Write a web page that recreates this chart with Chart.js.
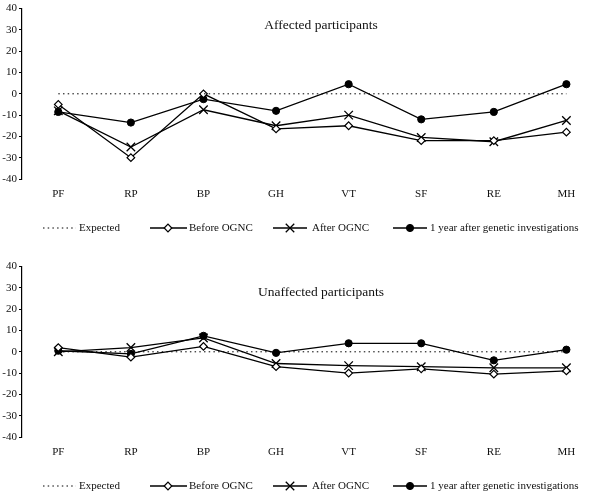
<!DOCTYPE html>
<html>
<head>
<meta charset="utf-8">
<script src="https://cdn.jsdelivr.net/npm/chart.js@4.4.1/dist/chart.umd.min.js"></script>
<style>
body { margin: 0; background: #fff; }
canvas { position: absolute; left: 0; }
</style>
</head>
<body>
<canvas id="topChart" width="610" height="233" style="top:0px"></canvas>
<canvas id="bottomChart" width="610" height="233" style="top:258px"></canvas>
<script>
// SF-36 dimensions
var categories = ['PF', 'RP', 'BP', 'GH', 'VT', 'SF', 'RE', 'MH'];
var expected = [0, 0, 0, 0, 0, 0, 0, 0];

// affected participants
var affectedBefore = [-5, -30, 0, -16.5, -15, -22, -22, -18];
var affectedAfter = [-8, -25, -7.5, -15, -10, -20.5, -22.5, -12.5];
var affectedYear = [-8.5, -13.5, -2.5, -8, 4.5, -12, -8.5, 4.5];

// unaffected participants
var unaffectedBefore = [2, -2.5, 2.5, -7, -10, -8, -10.5, -9];
var unaffectedAfter = [0, 2, 6.5, -5.5, -6.5, -7, -7.5, -7.5];
var unaffectedYear = [0.5, -1, 7.5, -0.5, 4, 4, -4, 1];

var seriesNames = ['Expected', 'Before OGNC', 'After OGNC', '1 year after genetic investigations'];
var yMin = -40, yMax = 40, yStep = 10;

var serif = '"Liberation Serif", "Times New Roman", serif';

// legend sample positions: line start, line end, marker x, text x
var legendPos = [
    [43, 76, null, 79],
    [150, 187, 168, 189],
    [273, 307, 290, 312],
    [393, 427, 410, 430]
];

var panelPlugin = {
    id: 'panel',
    afterDraw: function(chart, args, opts) {
        var ctx = chart.ctx;
        ctx.save();
        ctx.fillStyle = '#111';
        ctx.font = '13.5px ' + serif;
        ctx.textAlign = 'center';
        ctx.textBaseline = 'middle';
        ctx.fillText(opts.title, opts.titleX, opts.titleY);

        var ly = opts.legendY;
        chart.data.datasets.forEach(function(ds, i) {
            var p = legendPos[i];
            ctx.strokeStyle = '#000';
            ctx.lineWidth = ds.borderWidth;
            ctx.setLineDash(ds.borderDash || []);
            ctx.beginPath();
            ctx.moveTo(p[0], ly);
            ctx.lineTo(p[1], ly);
            ctx.stroke();
            ctx.setLineDash([]);
            if (p[2] !== null) {
                ctx.fillStyle = ds.pointBackgroundColor;
                ctx.strokeStyle = '#000';
                ctx.lineWidth = ds.pointBorderWidth;
                Chart.helpers.drawPoint(ctx, {
                    pointStyle: ds.pointStyle,
                    radius: ds.pointRadius,
                    rotation: 0,
                    borderWidth: ds.pointBorderWidth
                }, p[2], ly);
            }
            ctx.fillStyle = '#111';
            ctx.font = '11px ' + serif;
            ctx.textAlign = 'left';
            ctx.textBaseline = 'middle';
            ctx.fillText(ds.label, p[3], ly + 0.5);
        });
        ctx.restore();
    }
};

function makeDatasets(before, after, year) {
    return [
        {
            label: seriesNames[0], data: expected,
            borderColor: '#000', borderWidth: 1, borderDash: [1.5, 3.2],
            pointRadius: 0, pointStyle: 'circle', pointBackgroundColor: '#000', pointBorderWidth: 0
        },
        {
            label: seriesNames[1], data: before,
            borderColor: '#000', borderWidth: 1.3,
            pointStyle: 'rectRot', pointRadius: 3.8,
            pointBackgroundColor: '#fff', pointBorderColor: '#000', pointBorderWidth: 1.2
        },
        {
            label: seriesNames[2], data: after,
            borderColor: '#000', borderWidth: 1.3,
            pointStyle: 'crossRot', pointRadius: 6,
            pointBackgroundColor: '#000', pointBorderColor: '#000', pointBorderWidth: 1.3
        },
        {
            label: seriesNames[3], data: year,
            borderColor: '#000', borderWidth: 1.3,
            pointStyle: 'circle', pointRadius: 3.6,
            pointBackgroundColor: '#000', pointBorderColor: '#000', pointBorderWidth: 1
        }
    ];
}

function makeChart(id, datasets, title, titleY) {
    return new Chart(document.getElementById(id), {
        type: 'line',
        data: { labels: categories, datasets: datasets },
        plugins: [panelPlugin],
        options: {
            responsive: false,
            animation: false,
            devicePixelRatio: 1,
            layout: { padding: { top: 7, right: 1, left: 0, bottom: 0 } },
            elements: { line: { tension: 0 } },
            plugins: {
                legend: { display: false },
                tooltip: { enabled: false },
                panel: { title: title, titleX: 321, titleY: titleY, legendY: 228 }
            },
            scales: {
                x: {
                    offset: true,
                    grid: { display: false, drawTicks: false },
                    border: { display: false },
                    ticks: {
                        padding: 9, color: '#111', autoSkip: false, maxRotation: 0,
                        font: { family: serif, size: 11 }
                    },
                    afterFit: function(s) { s.height = 54; }
                },
                y: {
                    min: yMin, max: yMax,
                    grid: { display: true, drawOnChartArea: false, drawTicks: true, tickLength: 3, color: '#000' },
                    border: { display: true, color: '#000', width: 1.2 },
                    ticks: {
                        stepSize: yStep, padding: 2, color: '#111',
                        font: { family: serif, size: 11 }
                    },
                    afterFit: function(s) { s.width = 22; }
                }
            }
        }
    });
}

makeChart('topChart', makeDatasets(affectedBefore, affectedAfter, affectedYear), 'Affected participants', 25);
makeChart('bottomChart', makeDatasets(unaffectedBefore, unaffectedAfter, unaffectedYear), 'Unaffected participants', 34);
</script>
</body>
</html>
